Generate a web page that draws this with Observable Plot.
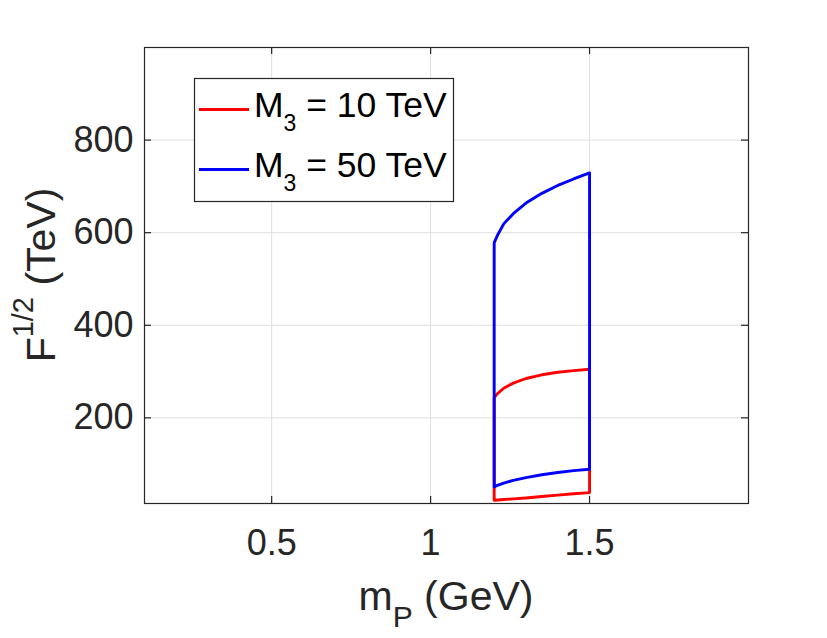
<!DOCTYPE html>
<html>
<head>
<meta charset="utf-8">
<script src="https://cdn.jsdelivr.net/npm/d3@7"></script>
<script src="https://cdn.jsdelivr.net/npm/@observablehq/plot@0.6"></script>
<style>
  html, body { margin: 0; padding: 0; background: #ffffff; }
  #chart { position: relative; width: 827px; height: 638px; }
</style>
</head>
<body>
<div id="chart"></div>
<script>
// ---- data ----
const mP        = [1.2, 1.21, 1.23, 1.26, 1.3, 1.35, 1.4, 1.45, 1.5];
const redUpper  = [244, 252, 264, 275, 285, 293, 298.5, 302, 305];
const redLower  = [22, 22.5, 23.5, 25, 27, 30, 33, 36, 38.5];
const blueUpper = [578, 594, 619, 641, 664, 685, 702, 716, 729];
const blueLower = [51, 54, 59, 65, 71, 77, 82, 86, 89];
const seriesNames = ["M3 = 10 TeV", "M3 = 50 TeV"];
const seriesColors = ["#ff0000", "#0000ff"];
const xTicks = [0.5, 1, 1.5];
const yTicks = [200, 400, 600, 800];
const xDomain = [0.1, 2];
const yDomain = [15, 1000];

// closed outline: lower curve left->right, upper curve right->left, back to start
function outline(lower, upper) {
  const pts = [];
  mP.forEach((x, i) => pts.push({x, y: lower[i]}));
  for (let i = mP.length - 1; i >= 0; i--) pts.push({x: mP[i], y: upper[i]});
  pts.push({x: mP[0], y: lower[0]});
  return pts;
}
const redLoop = outline(redLower, redUpper);
const blueLoop = outline(blueLower, blueUpper);

const W = 827, H = 638, mL = 144, mR = 79, mT = 47, mB = 135;
const fw = W - mL - mR, fh = H - mT - mB, tk = 7;
const axisColor = "#262626";
const font = "'Liberation Sans', Arial, Helvetica, sans-serif";

const svg = Plot.plot({
  width: W, height: H,
  marginLeft: mL, marginRight: mR, marginTop: mT, marginBottom: mB,
  style: {fontFamily: font, fontSize: "36px", color: axisColor, background: "#ffffff", overflow: "visible"},
  x: {domain: xDomain},
  y: {domain: yDomain},
  marks: [
    Plot.gridX(xTicks, {stroke: "#dfdfdf", strokeOpacity: 1, strokeWidth: 1}),
    Plot.gridY(yTicks, {stroke: "#dfdfdf", strokeOpacity: 1, strokeWidth: 1}),
    Plot.line(redLoop, {x: "x", y: "y", stroke: seriesColors[0], strokeWidth: 2.9}),
    Plot.line(blueLoop, {x: "x", y: "y", stroke: seriesColors[1], strokeWidth: 2.9}),
    Plot.frame({stroke: axisColor, strokeWidth: 1.2}),
    Plot.tickX(xTicks, {x: d => d, stroke: axisColor, strokeWidth: 1.2, insetTop: fh - tk}),
    Plot.tickX(xTicks, {x: d => d, stroke: axisColor, strokeWidth: 1.2, insetBottom: fh - tk}),
    Plot.tickY(yTicks, {y: d => d, stroke: axisColor, strokeWidth: 1.2, insetRight: fw - tk}),
    Plot.tickY(yTicks, {y: d => d, stroke: axisColor, strokeWidth: 1.2, insetLeft: fw - tk}),
    Plot.axisX(xTicks, {tickSize: 0, tickPadding: 26, label: null, fontSize: 36, fill: axisColor, tickFormat: d => String(d)}),
    Plot.axisY(yTicks, {tickSize: 0, tickPadding: 11, label: null, fontSize: 36, fill: axisColor, tickFormat: d => String(d)})
  ]
});
document.getElementById("chart").appendChild(svg);

const s = d3.select(svg);

// x label: m_P (GeV)
const xl = s.append("text")
  .attr("x", mL + fw / 2).attr("y", 610)
  .attr("text-anchor", "middle")
  .attr("font-family", font).attr("font-size", 41).attr("fill", axisColor);
xl.append("tspan").text("m");
xl.append("tspan").attr("font-size", 30).attr("dy", 17).text("P");
xl.append("tspan").attr("dy", -17).text(" (GeV)");

// y label: F^{1/2} (TeV)
const yl = s.append("text")
  .attr("transform", `translate(55,${mT + fh / 2}) rotate(-90)`)
  .attr("text-anchor", "middle")
  .attr("font-family", font).attr("font-size", 41).attr("fill", axisColor);
yl.append("tspan").text("F");
yl.append("tspan").attr("font-size", 29).attr("dy", -22).text("1/2");
yl.append("tspan").attr("dy", 22).text(" (TeV)");

// legend box inside the axes
const lg = s.append("g").attr("text-anchor", "start");
lg.append("rect")
  .attr("x", 194.5).attr("y", 78.5).attr("width", 259).attr("height", 123)
  .attr("fill", "#ffffff").attr("stroke", axisColor).attr("stroke-width", 1.2);
seriesNames.forEach((name, i) => {
  const ly = 109.5 + i * 60;
  lg.append("line")
    .attr("x1", 199).attr("x2", 249).attr("y1", ly).attr("y2", ly)
    .attr("stroke", seriesColors[i]).attr("stroke-width", 2.9);
  const parts = name.split(" = ");
  const t = lg.append("text")
    .attr("x", 254).attr("y", ly + 7.5)
    .attr("text-anchor", "start")
    .attr("font-family", font).attr("font-size", 35.5).attr("fill", "#000000");
  t.append("tspan").text(parts[0].slice(0, 1));
  t.append("tspan").attr("font-size", 23).attr("dy", 14).text(parts[0].slice(1));
  t.append("tspan").attr("dy", -14).text(" = " + parts[1]);
});
</script>
</body>
</html>
